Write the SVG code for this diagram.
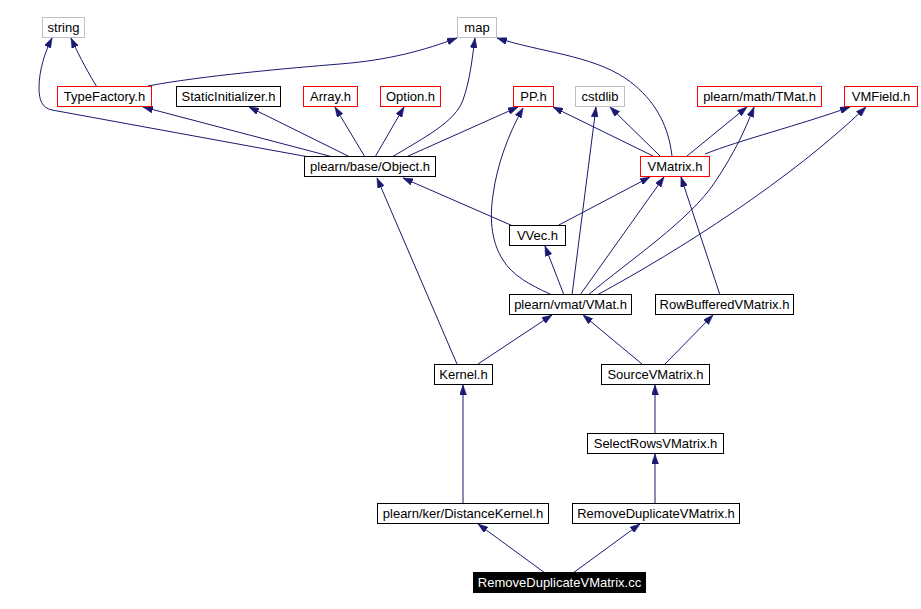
<svg xmlns="http://www.w3.org/2000/svg" width="921" height="609" viewBox="0 0 921 609">
<style>
.n rect{fill:#fff;stroke:#000;stroke-width:1}
.n.r rect{stroke:#f00}
.n.g rect{stroke:#bfbfbf}
.n.k rect{fill:#000;stroke:#000}
.n text{font-family:"Liberation Sans",Arial,sans-serif;font-size:13px;fill:#000;text-anchor:middle}
.n.k text{fill:#fff}
.e path{fill:none;stroke:#191970;stroke-width:1;marker-end:url(#ah)}
</style>
<defs>
<marker id="ah" markerUnits="userSpaceOnUse" viewBox="0 0 10 7" refX="10" refY="3.5" markerWidth="10" markerHeight="7" orient="auto">
<path d="M0,0 L10,3.5 L0,7 z" fill="#191970" stroke="#191970" stroke-width="0.5"/>
</marker>
</defs>
<rect width="921" height="609" fill="#fff"/>
<g id="edges" class="e">
<path d="M97,87 C90,76 80,58 71,38"/>
<path d="M148,86 C200,76 290,68 340,64 C390,60 425,50 457,38"/>
<path d="M309,157 L52,110 C42,108 39,100 39,88 C39,70 45,52 52,38"/>
<path d="M333,157 L143,107"/>
<path d="M350,157 L249,107"/>
<path d="M365,157 L335,107"/>
<path d="M375,157 L404,107"/>
<path d="M392,157 C425,137 455,122 463,100 C470,80 472,60 475,38"/>
<path d="M406,157 L518,107"/>
<path d="M672,156 C668,120 650,95 625,78 C590,55 540,52 497,38"/>
<path d="M653,156 L553,107"/>
<path d="M660,156 L610,107"/>
<path d="M687,156 L747,107"/>
<path d="M705,154 C740,140 800,125 850,107"/>
<path d="M513,226 L403,178"/>
<path d="M557,226 L650,177"/>
<path d="M564,295 L545,246"/>
<path d="M550,294 C530,285 512,275 503,260 C490,240 490,215 493,195 C497,165 508,135 523,108"/>
<path d="M572,295 L596,107"/>
<path d="M580,295 L664,177"/>
<path d="M588,295 C630,260 690,220 715,182 C735,152 745,130 754,107"/>
<path d="M597,295 C680,250 790,180 866,107"/>
<path d="M720,295 L681,177"/>
<path d="M457,364 L377,178"/>
<path d="M478,364 L552,315"/>
<path d="M642,364 L583,315"/>
<path d="M665,364 L713,315"/>
<path d="M655,433 L655,385"/>
<path d="M463,503 L463,385"/>
<path d="M655,503 L655,454"/>
<path d="M545,573 L478,524"/>
<path d="M573,573 L640,524"/>
</g>
<g id="n_string" class="n g"><rect x="42.5" y="17.5" width="42" height="20"/><text x="63.5" y="32">string</text></g>
<g id="n_map" class="n g"><rect x="457.5" y="17.5" width="39" height="20"/><text x="477" y="32">map</text></g>
<g id="n_typefactory" class="n r"><rect x="57.5" y="86.5" width="94" height="20"/><text x="104.5" y="101">TypeFactory.h</text></g>
<g id="n_staticinit" class="n"><rect x="176.5" y="86.5" width="104" height="20"/><text x="228.5" y="101">StaticInitializer.h</text></g>
<g id="n_array" class="n r"><rect x="303.5" y="86.5" width="54" height="20"/><text x="330.5" y="101">Array.h</text></g>
<g id="n_option" class="n r"><rect x="380.5" y="86.5" width="60" height="20"/><text x="410.5" y="101">Option.h</text></g>
<g id="n_pp" class="n r"><rect x="513.5" y="86.5" width="40" height="20"/><text x="533.5" y="101">PP.h</text></g>
<g id="n_cstdlib" class="n g"><rect x="575.5" y="86.5" width="49" height="20"/><text x="600" y="101">cstdlib</text></g>
<g id="n_tmat" class="n r"><rect x="697.5" y="86.5" width="124" height="20"/><text x="759.5" y="101">plearn/math/TMat.h</text></g>
<g id="n_vmfield" class="n r"><rect x="844.5" y="86.5" width="73" height="20"/><text x="881" y="101">VMField.h</text></g>
<g id="n_object" class="n"><rect x="304.5" y="156.5" width="131" height="20"/><text x="370" y="171">plearn/base/Object.h</text></g>
<g id="n_vmatrix" class="n r"><rect x="640.5" y="156.5" width="69" height="20"/><text x="675" y="171">VMatrix.h</text></g>
<g id="n_vvec" class="n"><rect x="509.5" y="225.5" width="56" height="20"/><text x="537.5" y="240">VVec.h</text></g>
<g id="n_vmat" class="n"><rect x="509.5" y="294.5" width="122" height="20"/><text x="570.5" y="309">plearn/vmat/VMat.h</text></g>
<g id="n_rowbuffered" class="n"><rect x="655.5" y="294.5" width="138" height="20"/><text x="724.5" y="309">RowBufferedVMatrix.h</text></g>
<g id="n_kernel" class="n"><rect x="434.5" y="364.5" width="58" height="20"/><text x="463.5" y="379">Kernel.h</text></g>
<g id="n_source" class="n"><rect x="601.5" y="364.5" width="108" height="20"/><text x="655.5" y="379">SourceVMatrix.h</text></g>
<g id="n_selectrows" class="n"><rect x="587.5" y="433.5" width="136" height="20"/><text x="655.5" y="448">SelectRowsVMatrix.h</text></g>
<g id="n_distkernel" class="n"><rect x="377.5" y="503.5" width="171" height="20"/><text x="463" y="518">plearn/ker/DistanceKernel.h</text></g>
<g id="n_removedup_h" class="n"><rect x="572.5" y="503.5" width="167" height="20"/><text x="656" y="518">RemoveDuplicateVMatrix.h</text></g>
<g id="n_removedup_cc" class="n k"><rect x="473.5" y="572.5" width="172" height="20"/><text x="559.5" y="587">RemoveDuplicateVMatrix.cc</text></g>
</svg>
